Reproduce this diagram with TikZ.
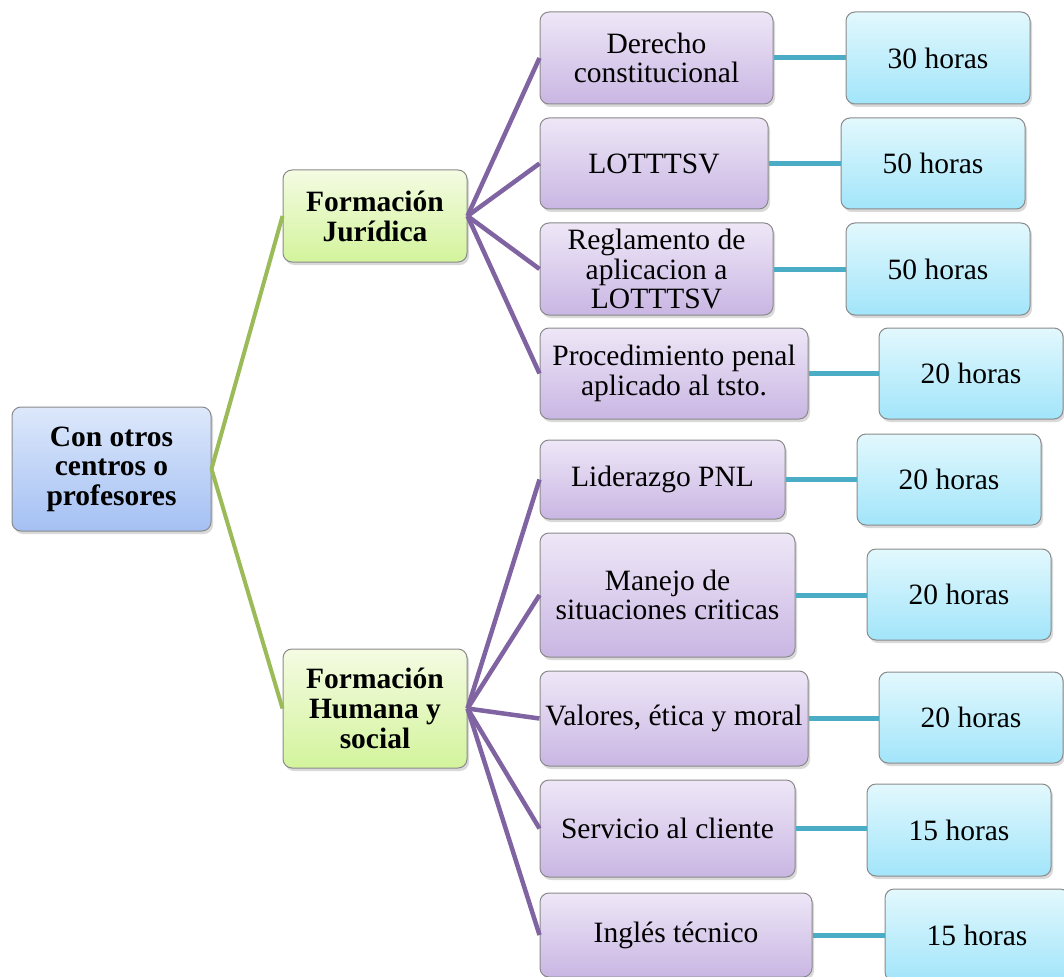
\documentclass[tikz,border=0pt]{standalone}
\usepackage{fontspec}
\setmainfont{Liberation Serif}
\usetikzlibrary{shadows}
\definecolor{edgegray}{HTML}{8A8A8A}
\definecolor{lpurple}{HTML}{8064A2}
\definecolor{lgreen}{HTML}{9BBB59}
\definecolor{lblue}{HTML}{4BACC6}
\definecolor{purpleTop}{HTML}{EEE7F7}
\definecolor{purpleBot}{HTML}{C9B6E3}
\definecolor{blueTop}{HTML}{E2F8FD}
\definecolor{blueBot}{HTML}{A2E5FA}
\definecolor{greenTop}{HTML}{F4FBE2}
\definecolor{greenBot}{HTML}{D3F49C}
\definecolor{rootTop}{HTML}{DDE8FB}
\definecolor{rootBot}{HTML}{A4C0F3}
\tikzset{
  box/.style={draw=edgegray, line width=1pt, rounded corners=9pt, inner sep=0pt,
    align=center, font=\fontsize{29.5}{29.5}\selectfont,
    drop shadow={opacity=0.3, shadow xshift=2pt, shadow yshift=-3pt}},
  rootbox/.style={box, top color=rootTop, bottom color=rootBot, font=\fontsize{29.5}{29.5}\selectfont\bfseries},
  topicbox/.style={box, top color=purpleTop, bottom color=purpleBot},
  hourbox/.style={box, top color=blueTop, bottom color=blueBot},
  catbox/.style={box, top color=greenTop, bottom color=greenBot, font=\fontsize{29.5}{30}\selectfont\bfseries},
  greenline/.style={draw=lgreen, line width=4pt},
  purpleline/.style={draw=lpurple, line width=4.5pt},
  blueline/.style={draw=lblue, line width=5pt},
}
\begin{document}
\begin{tikzpicture}[x=1pt,y=-1pt]
\useasboundingbox (0,0) rectangle (1064,976);
% root
\node[rootbox, minimum width=199pt, minimum height=124pt] (root) at (111.5,469) {Con otros\\centros o\\profesores};
% categories
\node[catbox, minimum width=184pt, minimum height=92pt] (fj) at (375,216) {Formación\\Jurídica};
\node[catbox, minimum width=184pt, minimum height=119pt] (fh) at (375,708.5) {Formación\\Humana y\\social};
% topics
\node[topicbox, minimum width=233pt, minimum height=92pt] (t1) at (656.5,58) {Derecho\\constitucional};
\node[topicbox, minimum width=228pt, minimum height=91pt] (t2) at (654,163.5) {LOTTTSV};
\node[topicbox, minimum width=233pt, minimum height=92pt] (t3) at (656.5,269) {Reglamento de\\aplicacion a\\LOTTTSV};
\node[topicbox, minimum width=268pt, minimum height=91pt] (t4) at (674,373.5) {Procedimiento penal\\aplicado al tsto.};
\node[topicbox, minimum width=245pt, minimum height=79pt] (t5) at (662.5,479.5) {Liderazgo PNL};
\node[topicbox, minimum width=255pt, minimum height=124pt] (t6) at (667.5,595) {Manejo de\\situaciones criticas};
\node[topicbox, minimum width=268pt, minimum height=95pt] (t7) at (674,718.5) {Valores, ética y moral};
\node[topicbox, minimum width=255pt, minimum height=97pt] (t8) at (667.5,828.5) {Servicio al cliente};
\node[topicbox, minimum width=272pt, minimum height=84pt] (t9) at (676,935) {Inglés técnico};
% hours
\node[hourbox, minimum width=184pt, minimum height=92pt] (h1) at (938,58) {30 horas};
\node[hourbox, minimum width=184pt, minimum height=91pt] (h2) at (933,163.5) {50 horas};
\node[hourbox, minimum width=184pt, minimum height=92pt] (h3) at (938,269) {50 horas};
\node[hourbox, minimum width=184pt, minimum height=91pt] (h4) at (971,373.5) {20 horas};
\node[hourbox, minimum width=184pt, minimum height=91pt] (h5) at (949,479.5) {20 horas};
\node[hourbox, minimum width=184pt, minimum height=91pt] (h6) at (959,594.5) {20 horas};
\node[hourbox, minimum width=184pt, minimum height=91pt] (h7) at (971,717.5) {20 horas};
\node[hourbox, minimum width=184pt, minimum height=92pt] (h8) at (959,830) {15 horas};
\node[hourbox, minimum width=184pt, minimum height=92pt] (h9) at (977,935) {15 horas};
% connectors
\draw[greenline] (root.east) -- (fj.west);
\draw[greenline] (root.east) -- (fh.west);
\foreach \t in {t1,t2,t3,t4} \draw[purpleline] (fj.east) -- (\t.west);
\foreach \t in {t5,t6,t7,t8,t9} \draw[purpleline] (fh.east) -- (\t.west);
\foreach \i in {1,...,9} \draw[blueline] (t\i.east) -- (t\i.east -| h\i.west);
\end{tikzpicture}
\end{document}
